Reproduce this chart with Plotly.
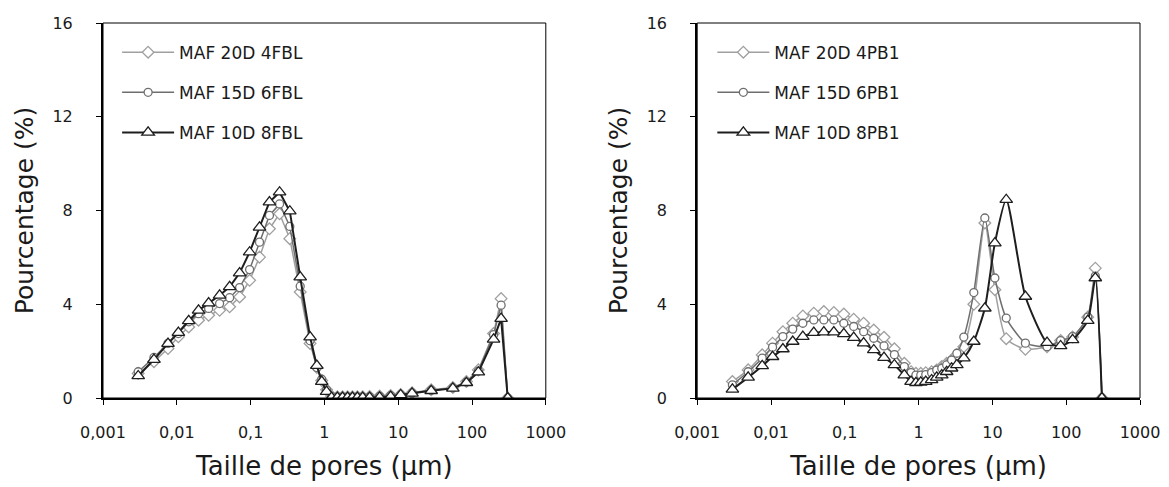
import plotly.graph_objects as go
from plotly.subplots import make_subplots

# pore sizes (µm), same intrusion steps for every sample
pore_size = [0.003, 0.0049, 0.0076, 0.0105, 0.0145, 0.0197, 0.027, 0.038, 0.052, 0.071,
             0.097, 0.132, 0.18, 0.247, 0.34, 0.47, 0.64, 0.79, 0.92, 1.07,
             1.25, 1.5, 1.76, 2.06, 2.4, 2.8, 3.3, 4.1, 5.6, 7.9,
             10.8, 15.4, 28, 55, 84, 122, 196, 248, 305]

# left panel (FBL)
fbl_20d = [1.05, 1.55, 2.11, 2.61, 3.03, 3.32, 3.53, 3.74, 3.89, 4.31,
           5.02, 6.01, 7.22, 7.86, 6.8, 4.52, 2.33, 1.3, 0.75, 0.35,
           0.08, 0.05, 0.05, 0.05, 0.05, 0.05, 0.05, 0.06, 0.08, 0.11,
           0.15, 0.22, 0.35, 0.45, 0.7, 1.2, 2.75, 4.24, 0]
fbl_15d = [1.12, 1.73, 2.33, 2.75, 3.25, 3.6, 3.82, 4.03, 4.28, 4.71,
           5.48, 6.65, 7.79, 8.28, 7.32, 4.77, 2.44, 1.3, 0.8, 0.35,
           0.07, 0.04, 0.04, 0.04, 0.04, 0.04, 0.04, 0.05, 0.07, 0.1,
           0.14, 0.21, 0.33, 0.43, 0.68, 1.15, 2.7, 3.96, 0]
fbl_10d = [0.94, 1.64, 2.32, 2.79, 3.29, 3.74, 4.05, 4.38, 4.74, 5.33,
           6.22, 7.28, 8.36, 8.78, 7.97, 5.16, 2.6, 1.38, 0.7, 0.27,
           0.02, 0.02, 0.02, 0.02, 0.02, 0.02, 0.02, 0.02, 0.03, 0.06,
           0.13, 0.2, 0.31, 0.41, 0.65, 1.1, 2.5, 3.39, 0]

# right panel (PB1)
pb1_20d = [0.7, 1.2, 1.84, 2.34, 2.83, 3.19, 3.5, 3.62, 3.69, 3.65,
           3.58, 3.36, 3.19, 2.9, 2.59, 2.1, 1.48, 1.12, 1.05, 1.05,
           1.08, 1.12, 1.19, 1.34, 1.48, 1.62, 1.84, 2.19, 4.0, 7.47,
           4.62, 2.53, 2.08, 2.19, 2.45, 2.6, 3.45, 5.54, 0]
pb1_15d = [0.56, 1.12, 1.7, 2.17, 2.62, 2.94, 3.19, 3.33, 3.33, 3.33,
           3.19, 3.05, 2.83, 2.55, 2.22, 1.85, 1.34, 1.08, 0.98, 0.98,
           1.0, 1.08, 1.19, 1.27, 1.41, 1.62, 1.91, 2.6, 4.5, 7.68,
           5.12, 3.41, 2.34, 2.19, 2.45, 2.62, 3.45, 5.2, 0]
pb1_10d = [0.37, 0.88, 1.37, 1.76, 2.09, 2.41, 2.62, 2.79, 2.81, 2.81,
           2.74, 2.58, 2.34, 2.05, 1.72, 1.41, 0.98, 0.7, 0.65, 0.67,
           0.7, 0.77, 0.88, 0.98, 1.12, 1.27, 1.41, 1.7, 2.41, 3.83,
           6.61, 8.46, 4.33, 2.36, 2.22, 2.48, 3.3, 5.12, 0]

x_ticks = [0.001, 0.01, 0.1, 1, 10, 100, 1000]
x_ticktext = ["0,001", "0,01", "0,1", "1", "10", "100", "1000"]
y_ticks = [0, 4, 8, 12, 16]

FONT = "DejaVu Sans, Verdana, sans-serif"
styles = [
    dict(symbol="diamond", size=9, color="#a0a0a0", width=1.5),
    dict(symbol="circle", size=8, color="#6e6e6e", width=1.5),
    dict(symbol="triangle-up", size=11, color="#1e1e1e", width=2),
]

fig = make_subplots(rows=1, cols=2, horizontal_spacing=0.146)

panels = [
    (1, "legend", "linear", [("MAF 20D 4FBL", fbl_20d), ("MAF 15D 6FBL", fbl_15d), ("MAF 10D 8FBL", fbl_10d)]),
    (2, "legend2", "spline", [("MAF 20D 4PB1", pb1_20d), ("MAF 15D 6PB1", pb1_15d), ("MAF 10D 8PB1", pb1_10d)]),
]
for col, leg, shape, series in panels:
    for i, (name, vals) in enumerate(series):
        st = styles[i]
        fig.add_trace(go.Scatter(
            x=pore_size, y=vals, name=name, mode="lines+markers",
            line=dict(color=st["color"], width=st["width"], shape=shape, smoothing=0.6),
            marker=dict(symbol=st["symbol"], size=st["size"], color="white",
                        line=dict(color=st["color"], width=1.3)),
            legend=leg, legendgroup=name,
        ), row=1, col=col)

    fig.update_xaxes(type="log", range=[-3, 3], tickvals=x_ticks, ticktext=x_ticktext,
                     ticks="outside", ticklen=5, tickcolor="black", showgrid=False, zeroline=False,
                     showline=True, linecolor="black", linewidth=2, automargin=False,
                     ticklabelstandoff=14, tickfont=dict(size=16),
                     title=dict(text="Taille de pores (µm)", font=dict(size=26), standoff=16),
                     row=1, col=col)
    fig.update_yaxes(range=[0, 16], tickvals=y_ticks, ticks="outside", ticklen=5, tickcolor="black",
                     showgrid=False, zeroline=False, showline=True, linecolor="black", linewidth=2,
                     automargin=False, ticklabelstandoff=20, tickfont=dict(size=16),
                     title=dict(text="Pourcentage (%)", font=dict(size=25), standoff=12),
                     row=1, col=col)

# thin frame on top/right of each plot area
for xd, yd in [("x domain", "y domain"), ("x2 domain", "y2 domain")]:
    fig.add_shape(type="rect", xref=xd, yref=yd, x0=0, y0=0, x1=1, y1=1,
                  line=dict(color="black", width=1))

legend_style = dict(bgcolor="rgba(0,0,0,0)", font=dict(size=17, color="#1a1a1a"),
                    itemwidth=52, tracegroupgap=15, traceorder="grouped",
                    xanchor="left", yanchor="top", y=0.969)
fig.update_layout(
    width=1169, height=487,
    template="plotly_white",
    plot_bgcolor="white", paper_bgcolor="white",
    font=dict(family=FONT, size=16, color="#1a1a1a"),
    margin=dict(l=95, r=37, t=15, b=97),
    showlegend=True,
    legend=dict(x=0.0136, **legend_style),
    legend2=dict(x=0.5876, **legend_style),
)

fig.write_html("out.html")
